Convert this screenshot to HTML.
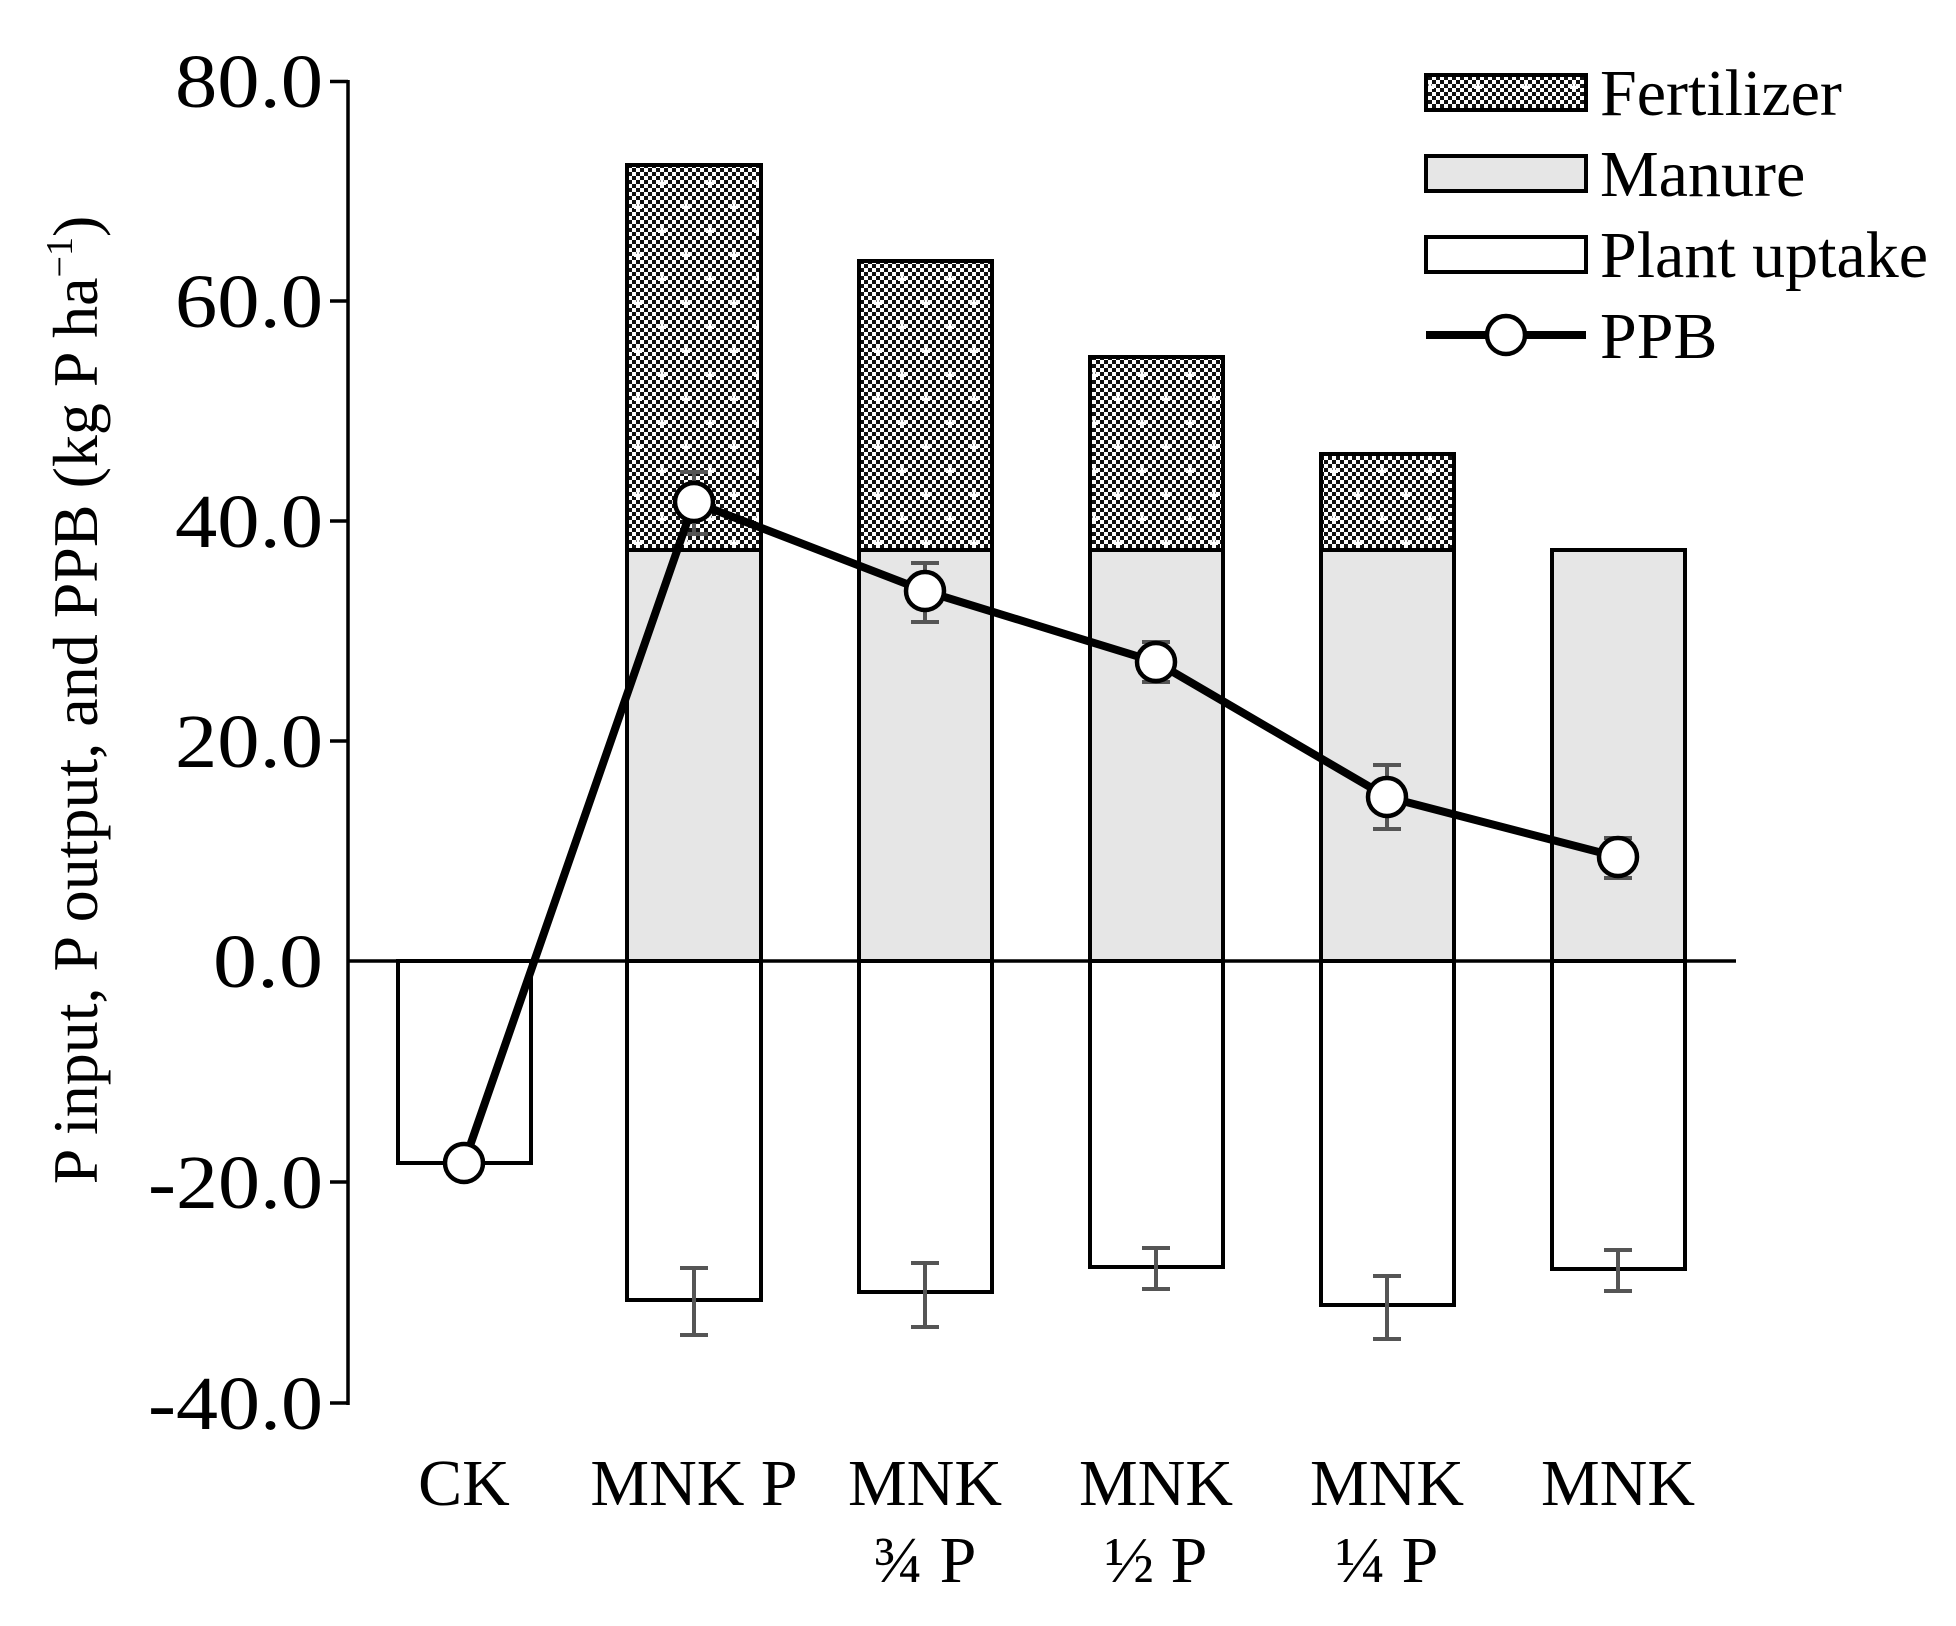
<!DOCTYPE html>
<html><head><style>body{margin:0;background:#fff}svg{display:block}</style></head><body>
<svg width="1956" height="1626" viewBox="0 0 1956 1626" xmlns="http://www.w3.org/2000/svg" font-family="Liberation Serif, serif">
<defs>
<pattern id="chk" width="8" height="8" patternUnits="userSpaceOnUse">
<rect width="8" height="8" fill="#fff"/>
<rect x="0" y="0" width="4" height="4" fill="#111"/>
<rect x="4" y="4" width="4" height="4" fill="#111"/>
</pattern>
<pattern id="fert" width="48" height="48" patternUnits="userSpaceOnUse">
<rect width="48" height="48" fill="url(#chk)"/>
<rect x="10" y="14" width="8" height="3" fill="#fff"/><rect x="12.5" y="11" width="3" height="9" fill="#fff"/>
<rect x="34" y="38" width="8" height="3" fill="#fff"/><rect x="36.5" y="35" width="3" height="9" fill="#fff"/>
</pattern>
</defs>
<g stroke="#000" stroke-width="4">
<rect x="398" y="961" width="133" height="202" fill="#fff"/>
<rect x="627" y="961" width="134" height="339" fill="#fff"/>
<rect x="627" y="550" width="134" height="411" fill="#e6e6e6"/>
<rect x="627" y="165" width="134" height="385" fill="url(#fert)"/>
<rect x="859" y="961" width="133" height="331" fill="#fff"/>
<rect x="859" y="550" width="133" height="411" fill="#e6e6e6"/>
<rect x="859" y="261" width="133" height="289" fill="url(#fert)"/>
<rect x="1090" y="961" width="133" height="306" fill="#fff"/>
<rect x="1090" y="550" width="133" height="411" fill="#e6e6e6"/>
<rect x="1090" y="357" width="133" height="193" fill="url(#fert)"/>
<rect x="1321" y="961" width="133" height="344" fill="#fff"/>
<rect x="1321" y="550" width="133" height="411" fill="#e6e6e6"/>
<rect x="1321" y="454" width="133" height="96" fill="url(#fert)"/>
<rect x="1552" y="961" width="133" height="308" fill="#fff"/>
<rect x="1552" y="550" width="133" height="411" fill="#e6e6e6"/>
</g>
<g stroke="#555" stroke-width="4" fill="none">
<path d="M694 1268V1335M680 1268H708M680 1335H708"/>
<path d="M925 1263V1327M911 1263H939M911 1327H939"/>
<path d="M1156 1248V1289M1142 1248H1170M1142 1289H1170"/>
<path d="M1387 1276V1339M1373 1276H1401M1373 1339H1401"/>
<path d="M1618 1250V1291M1604 1250H1632M1604 1291H1632"/>
<path d="M694 472V534M680 472H708M680 534H708"/>
<path d="M925 563V622M911 563H939M911 622H939"/>
<path d="M1156 642V682M1142 642H1170M1142 682H1170"/>
<path d="M1387 765V829M1373 765H1401M1373 829H1401"/>
<path d="M1618 838V878M1604 838H1632M1604 878H1632"/>
</g>
<g stroke="#000" stroke-width="3.5">
<line x1="348" y1="80" x2="348" y2="1405"/>
<line x1="348" y1="961" x2="1736" y2="961"/>
<path d="M330 81.5H348M330 301H348M330 521H348M330 741H348M330 1182H348M330 1403H348"/>
</g>
<polyline points="464,1163 694,502 925,591 1156,662 1387,797 1618,857" fill="none" stroke="#000" stroke-width="8" stroke-linejoin="round"/>
<g fill="#fff" stroke="#000" stroke-width="4.5">
<circle cx="464" cy="1163" r="19"/><circle cx="694" cy="502" r="19"/><circle cx="925" cy="591" r="19"/>
<circle cx="1156" cy="662" r="19"/><circle cx="1387" cy="797" r="19"/><circle cx="1618" cy="857" r="19"/>
</g>
<g font-size="76" text-anchor="end" fill="#000">
<text x="323" y="107" textLength="148" lengthAdjust="spacingAndGlyphs">80.0</text>
<text x="323" y="327" textLength="148" lengthAdjust="spacingAndGlyphs">60.0</text>
<text x="323" y="547" textLength="148" lengthAdjust="spacingAndGlyphs">40.0</text>
<text x="323" y="767" textLength="148" lengthAdjust="spacingAndGlyphs">20.0</text>
<text x="323" y="987" textLength="110" lengthAdjust="spacingAndGlyphs">0.0</text>
<text x="323" y="1208" textLength="175" lengthAdjust="spacingAndGlyphs">-20.0</text>
<text x="323" y="1429" textLength="175" lengthAdjust="spacingAndGlyphs">-40.0</text>
</g>
<text transform="translate(97,700) rotate(-90)" text-anchor="middle" font-size="64">P input, P output, and PPB (kg P ha<tspan font-size="38" dy="-25">−1</tspan><tspan dy="25">)</tspan></text>
<g font-size="66" text-anchor="middle">
<text x="464" y="1505">CK</text><text x="694" y="1505">MNK P</text>
<text x="925" y="1505">MNK</text><text x="925" y="1582">¾ P</text>
<text x="1156" y="1505">MNK</text><text x="1156" y="1582">½ P</text>
<text x="1387" y="1505">MNK</text><text x="1387" y="1582">¼ P</text>
<text x="1618" y="1505">MNK</text>
</g>
<g stroke="#000" stroke-width="4">
<rect x="1426" y="75" width="160" height="35" fill="url(#fert)"/>
<rect x="1426" y="156" width="160" height="35" fill="#e6e6e6"/>
<rect x="1426" y="237" width="160" height="35" fill="#fff"/>
<line x1="1426" y1="335" x2="1586" y2="335" stroke-width="8"/>
<circle cx="1506" cy="335" r="19" fill="#fff" stroke-width="4.5"/>
</g>
<g font-size="66">
<text x="1600" y="115">Fertilizer</text><text x="1600" y="196">Manure</text>
<text x="1600" y="277">Plant uptake</text><text x="1600" y="358">PPB</text>
</g>
</svg>
</body></html>
